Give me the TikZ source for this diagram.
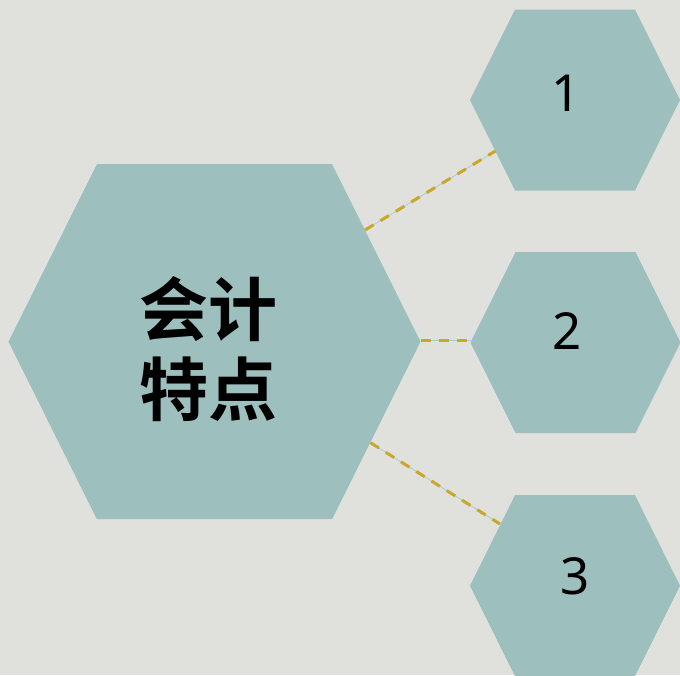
\documentclass[tikz,border=0pt]{standalone}
\usepackage{fontspec}
\newfontfamily\cjk[BoldFont={Noto Sans CJK SC Bold}]{Noto Sans CJK SC}
\newfontfamily\digitfont{Noto Sans}
\usetikzlibrary{calc}
\definecolor{bgcol}{HTML}{E0E1DC}
\definecolor{hexcol}{HTML}{9DBFBE}
\definecolor{goldcol}{HTML}{C9A829}
\definecolor{thincol}{HTML}{A9CCD2}
\tikzset{
  hexbox/.style={rectangle, draw=none, fill=none, inner sep=0pt, outer sep=0pt},
  bighex/.style={hexbox, minimum width=412pt, minimum height=355pt},
  smallhex/.style={hexbox, minimum width=210pt, minimum height=181pt},
  numtext/.style={font=\digitfont\fontsize{51}{60}\selectfont, text=black, inner sep=0pt},
  titletext/.style={font=\cjk\bfseries\fontsize{69}{80}\selectfont, text=black, align=center, inner sep=0pt},
  thinlink/.style={draw=thincol, line width=0.8pt},
  goldlink/.style={draw=goldcol, line width=3pt, dash pattern=on 10pt off 8pt},
}
% \hexfill{node}{inset}
\newcommand{\hexfill}[2]{%
  \fill[hexcol] (#1.west) -- ($(#1.north west)+(#2,0)$) -- ($(#1.north east)-(#2,0)$)
    -- (#1.east) -- ($(#1.south east)-(#2,0)$) -- ($(#1.south west)+(#2,0)$) -- cycle;}
\begin{document}
\begin{tikzpicture}[x=1pt,y=-1pt]
\useasboundingbox (0,0) rectangle (680,675);
\fill[bgcol] (0,0) rectangle (680,675);
\node[bighex] (big) at (214.5,341.7) {};
\node[smallhex] (h1) at (575,100) {};
\node[smallhex] (h2) at (575.5,342.5) {};
\node[smallhex] (h3) at (575,585.7) {};
\hexfill{big}{88.4pt}
\hexfill{h1}{45pt}
\hexfill{h2}{45pt}
\hexfill{h3}{45pt}
\node[titletext] (title) at (208.5,349) {会计\\特点};
\node[numtext] (n1) at (566,93) {1};
\node[numtext] (n2) at (567,331) {2};
\node[numtext] (n3) at (574.7,576) {3};
\coordinate (a1) at (365,230);
\coordinate (b1) at (495.5,151);
\coordinate (a2) at (420.5,340.5);
\coordinate (b2) at (471,340.5);
\coordinate (a3) at (370.5,442.7);
\coordinate (b3) at (500,524);
\foreach \s/\e in {a1/b1,a2/b2,a3/b3}{
  \draw[thinlink] (\s) -- (\e);
  \draw[goldlink] (\s) -- (\e);
}
\end{tikzpicture}
\end{document}
